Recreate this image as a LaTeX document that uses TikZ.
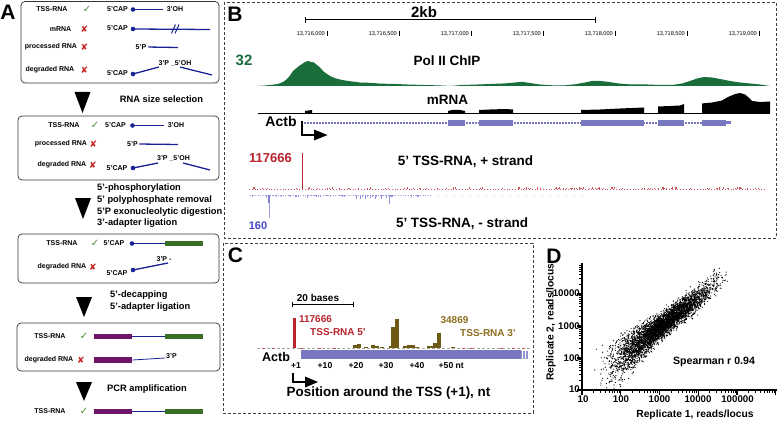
\documentclass[tikz,border=0pt]{standalone}
\usepackage{fontspec}
\setmainfont{Liberation Sans}
\newfontfamily\symf{DejaVu Sans}
\newcommand\fsz[1]{\fontsize{#1}{#1}\selectfont}
\definecolor{navy}{RGB}{25,35,150}
\definecolor{okgreen}{RGB}{70,140,50}
\definecolor{xred}{RGB}{200,30,30}
\definecolor{adgreen}{RGB}{55,110,35}
\definecolor{adpurple}{RGB}{110,20,105}
\definecolor{chip}{RGB}{25,110,60}
\definecolor{trred}{RGB}{185,35,45}
\definecolor{trblue}{RGB}{70,70,200}
\definecolor{genecol}{RGB}{120,120,192}
\definecolor{tbrown}{RGB}{110,90,20}
\definecolor{tbrowntxt}{RGB}{140,110,30}
\begin{document}
\begin{tikzpicture}[x=1pt,y=-1pt,
  lab/.style={inner sep=0pt, font=\fsz{7}\bfseries},
  steptext/.style={inner sep=0pt, anchor=west, font=\fsz{9.3}\bfseries},
  okm/.style={inner sep=0pt, text=okgreen, font=\symf\fsz{10}},
  nom/.style={inner sep=0pt, text=xred, font=\symf\fsz{9}},
  dot/.style={circle, fill=navy, inner sep=0pt, minimum size=4.6pt},
  rna/.style={navy, line width=1.3pt},
  thinrna/.style={navy, line width=0.8pt},
  abox/.style={draw=black!80, line width=0.7pt, rounded corners=4pt},
  dbox/.style={draw=black!75, line width=0.6pt, dash pattern=on 3pt off 2pt},
  panel/.style={inner sep=0pt, font=\fsz{21}\bfseries},
  btext/.style={inner sep=0pt, font=\fsz{13.5}\bfseries},
  ctext/.style={inner sep=0pt, font=\fsz{10}\bfseries},
  coordlab/.style={inner sep=0pt, anchor=east, font=\fsz{5.6}},
  ticklab/.style={inner sep=0pt, font=\fsz{8.6}\bfseries},
  dlab/.style={inner sep=0pt, font=\fsz{9.7}\bfseries},
  downtri/.style={fill=black}
]
\useasboundingbox (0,0) rectangle (778,422);
\fill[white] (0,0) rectangle (778,422);

%================ PANEL A =================
\node[panel] (pA) at (8,12.5) {A};

% box 1
\draw[abox] (21,1.5) rectangle (219,83);
\node[lab] (b1l1) at (52,9) {TSS-RNA};
\node[okm] (b1k1) at (87,9) {✓};
\node[lab] (b1c1) at (117.5,9.5) {5'CAP};
\node[dot] (b1d1) at (133,9.5) {};
\node[lab] (b1e1) at (175,9.5) {3'OH};
\draw[rna, shorten >=4pt] (b1d1.center) -- (b1e1.west);

\node[lab] (b1l2) at (60.5,29) {mRNA};
\node[nom] (b1k2) at (84.5,29.5) {✘};
\node[lab] (b1c2) at (117.5,28.5) {5'CAP};
\node[dot] (b1d2) at (133,29) {};
\coordinate (b1z2) at (210,29.5);
\draw[rna] (b1d2.center) -- (b1z2);
\draw[navy, line width=1pt] (171.5,33.5) -- (175.5,24.5) (175,33.5) -- (179,24.5);

\node[lab] (b1l3) at (51,47) {processed RNA};
\node[nom] (b1k3) at (84.5,47.5) {✘};
\node[lab] (b1c3) at (141,47) {5'P};
\coordinate (b1z3) at (178,47.5);
\draw[rna, shorten <=2pt] (b1c3.east) -- (b1z3);

\node[lab] (b1l4) at (50,70) {degraded RNA};
\node[nom] (b1k4) at (84.5,70) {✘};
\node[lab] (b1c4) at (117.5,73.5) {5'CAP};
\node[dot] (b1d4) at (133,74) {};
\coordinate (b1m4) at (159,67);
\draw[rna] (b1d4.center) -- (b1m4);
\node[lab] (b1p4) at (175,63) {3'P \_5'OH};
\coordinate (b1s4) at (180,67);
\coordinate (b1z4) at (212,75);
\draw[rna] (b1s4) -- (b1z4);

% arrow 1
\fill[downtri] (74.5,92) -- (90.5,92) -- (82.5,113) -- cycle;
\node[steptext, anchor=center] (s1) at (161.5,99) {RNA size selection};

% box 2
\draw[abox] (18,116) rectangle (219,180);
\node[lab] (b2l1) at (64,125) {TSS-RNA};
\node[okm] (b2k1) at (95,125) {✓};
\node[lab] (b2c1) at (115.5,125.5) {5'CAP};
\node[dot] (b2d1) at (132.5,125.5) {};
\node[lab] (b2e1) at (176,125.5) {3'OH};
\draw[rna, shorten >=4pt] (b2d1.center) -- (b2e1.west);

\node[lab] (b2l2) at (61,144) {processed RNA};
\node[nom] (b2k2) at (93.5,144) {✘};
\node[lab] (b2c2) at (132.5,144) {5'P};
\coordinate (b2z2) at (178,144.5);
\draw[rna, shorten <=1.5pt] (b2c2.east) -- (b2z2);

\node[lab] (b2l3) at (62,165) {degraded RNA};
\node[nom] (b2k3) at (93,165) {✘};
\node[lab] (b2c3) at (117,168.5) {5'CAP};
\node[dot] (b2d3) at (133,168) {};
\coordinate (b2m3) at (158,163);
\draw[rna] (b2d3.center) -- (b2m3);
\node[lab] (b2p3) at (173.5,158) {3'P \_5'OH};
\coordinate (b2s3) at (183,163);
\coordinate (b2z3) at (210,170);
\draw[rna] (b2s3) -- (b2z3);

% arrow 2
\fill[downtri] (75,198) -- (91,198) -- (83,219) -- cycle;
\node[steptext] (s2a) at (97,188) {5'-phosphorylation};
\node[steptext] (s2b) at (97,200) {5' polyphosphate removal};
\node[steptext] (s2c) at (97,212) {5'P exonucleolytic digestion};
\node[steptext] (s2d) at (97,223.5) {3'-adapter ligation};

% box 3
\draw[abox] (18,234) rectangle (219,283);
\node[lab] (b3l1) at (62,243) {TSS-RNA};
\node[okm] (b3k1) at (95,243) {✓};
\node[lab] (b3c1) at (114,243.5) {5'CAP};
\node[dot] (b3d1) at (132,243.5) {};
\node[fill=adgreen, inner sep=0pt, minimum width=38pt, minimum height=5.5pt, anchor=west] (b3g1) at (165,243.5) {};
\draw[rna] (b3d1.center) -- (b3g1.west);

\node[lab] (b3l2) at (62,267) {degraded RNA};
\node[nom] (b3k2) at (93,267) {✘};
\node[lab] (b3c2) at (117,273) {5'CAP};
\node[dot] (b3d2) at (133,270) {};
\coordinate (b3z2) at (168,263);
\draw[rna] (b3d2.center) -- (b3z2);
\node[lab] (b3p2) at (164,259.5) {3'P -};

% arrow 3
\fill[downtri] (76,297) -- (92,297) -- (84,317) -- cycle;
\node[steptext] (s3a) at (110,295) {5'-decapping};
\node[steptext] (s3b) at (110,307) {5'-adapter ligation};

% box 4
\draw[abox] (17,323) rectangle (220,371);
\node[lab] (b4l1) at (50,336) {TSS-RNA};
\node[okm] (b4k1) at (84,336) {✓};
\node[fill=adpurple, inner sep=0pt, minimum width=38pt, minimum height=5.5pt, anchor=west] (b4p1) at (94,336.5) {};
\node[fill=adgreen, inner sep=0pt, minimum width=38pt, minimum height=5.5pt, anchor=west] (b4g1) at (165,336.5) {};
\draw[thinrna] (b4p1.east) -- (b4g1.west);

\node[lab] (b4l2) at (49,360) {degraded RNA};
\node[nom] (b4k2) at (81,360) {✘};
\node[fill=adpurple, inner sep=0pt, minimum width=38pt, minimum height=5.5pt, anchor=west] (b4p2) at (94,360) {};
\coordinate (b4z2) at (165,358);
\draw[thinrna] (b4p2.east) -- (b4z2);
\node[lab] (b4e2) at (171.5,356) {3'P};

% arrow 4
\fill[downtri] (76,382) -- (92,382) -- (84,401) -- cycle;
\node[steptext, anchor=center] (s4) at (147,389) {PCR amplification};

% final
\node[lab] (b5l1) at (50,411) {TSS-RNA};
\node[okm] (b5k1) at (84,411) {✓};
\node[fill=adpurple, inner sep=0pt, minimum width=38pt, minimum height=5.5pt, anchor=west] (b5p1) at (94,411.5) {};
\node[fill=adgreen, inner sep=0pt, minimum width=38pt, minimum height=5.5pt, anchor=west] (b5g1) at (165,411.5) {};
\draw[thinrna] (b5p1.east) -- (b5g1.west);

%================ PANEL B =================
\draw[dbox] (224,2) rectangle (776,238);
\node[panel] (pB) at (235,14.5) {B};
% scale bar
\coordinate (sbl) at (305,20);
\coordinate (sbr) at (595,20);
\draw[line width=1pt] (sbl) -- (sbr);
\draw[line width=1pt] (305,17) -- (305,23) (595,17) -- (595,23);
\node[inner sep=0pt, font=\fsz{15}\bfseries] (kb) at (424,12) {2kb};
% coordinates
\node[coordlab] (c1) at (325,34) {13,716,000};
\node[coordlab] (c2) at (397,34) {13,716,500};
\node[coordlab] (c3) at (469,34) {13,717,000};
\node[coordlab] (c4) at (541,34) {13,717,500};
\node[coordlab] (c5) at (613,34) {13,718,000};
\node[coordlab] (c6) at (685,34) {13,718,500};
\node[coordlab] (c7) at (757,34) {13,719,000};
\foreach \t in {327,399,471,543,615,687,759} \draw[line width=0.4pt] (\t,31) -- (\t,36.5);
% Pol II
\node[inner sep=0pt, font=\fsz{15}\bfseries, text=chip] (n32) at (244,60) {32};
\node[btext] (pol) at (447,61) {Pol II ChIP};
\fill[chip] (257,86) -- (265,85.5) -- (272,84.8) -- (278,84) -- (283,82) -- (287,79) -- (290,75.5) -- (293,71) -- (296,68.5) -- (299,66) -- (302,64) -- (305,62) -- (308,61) -- (311,62) -- (314,62.5) -- (317,65) -- (320,67.5) -- (323,71) -- (327,74) -- (331,76.5) -- (336,78.5) -- (342,80) -- (350,81.2) -- (360,82.5) -- (370,82.8) -- (380,83.6) -- (395,84) -- (410,84.6) -- (425,85) -- (440,85.4) -- (450,86) -- (462,85) -- (475,84.6) -- (490,84) -- (505,83.4) -- (515,82.5) -- (522,81.8) -- (530,83) -- (540,84.5) -- (555,85.5) -- (565,85.3) -- (575,84.3) -- (585,82.5) -- (592,81) -- (600,81) -- (608,81.8) -- (618,83.4) -- (630,84.4) -- (645,84.4) -- (660,85) -- (672,85) -- (682,83.5) -- (690,81) -- (697,78.5) -- (704,77) -- (712,77.5) -- (720,79) -- (730,81) -- (740,82.5) -- (750,83.5) -- (760,84.5) -- (770,86) -- cycle;
% mRNA
\node[btext] (mrna) at (447.5,100) {mRNA};
\draw[line width=0.5pt] (258,113) -- (770,113);
\fill[black] (305,113) -- (305,111) -- (312,110) -- (312,113) -- cycle;
\fill[black] (448,113) -- (448,111) -- (452,110) -- (460,110) -- (465,111) -- (465,113) -- cycle;
\fill[black] (479,113) -- (479,110) -- (490,109.5) -- (505,109) -- (513,109.5) -- (513,113) -- cycle;
\fill[black] (581,113) -- (581,110) -- (600,109.5) -- (620,108.5) -- (644,107.5) -- (644,113) -- cycle;
\fill[black] (658,113) -- (658,106.5) -- (670,106) -- (680,105.5) -- (684,104) -- (684,113) -- cycle;
\fill[black] (702,113) -- (702,103.5) -- (712,102.5) -- (722,100.5) -- (728,97) -- (735,94) -- (740,93) -- (745,94.5) -- (748,97) -- (752,101) -- (760,102) -- (770,101.5) -- (770,113) -- cycle;
% gene model
\node[inner sep=0pt, font=\fsz{14}\bfseries] (actbB) at (281,121) {Actb};
\coordinate (gs) at (302,123);
\coordinate (ge) at (731,123);
\draw[genecol, line width=1.1pt, dash pattern=on 1pt off 0.5pt] (gs) -- (ge);
\foreach \a/\b in {448/465,479/513,581/644,658/684,702/726}
  \fill[genecol] (\a,120.3) rectangle (\b,125.7);
\fill[genecol] (726,121.5) rectangle (731,124.5);
\coordinate (tssB) at (302,121);
\draw[line width=1.1pt] (tssB) -- (302,135) -- (315,135);
\fill (314,129.5) -- (327.5,135) -- (314,140.5) -- cycle;
% TSS-RNA tracks
\node[btext, text=trred, font=\fsz{13}\bfseries] (r117) at (270.5,158) {117666};
\node[btext] (plus) at (465.5,162) {5' TSS-RNA, + strand};
\draw[trred, line width=0.8pt] (302,153) -- (302,189);
\draw[trred!75, line width=0.6pt, dash pattern=on 1pt off 1.8pt] (249,189) -- (765,189);
\pgfmathsetseed{11}
\foreach \i in {1,...,110} {
  \pgfmathsetmacro\xx{507+256*rand}
  \pgfmathsetmacro\hh{0.6+1.4*rnd}
  \draw[trred!80, line width=0.5pt] (\xx,189) -- (\xx,189-\hh);
}
\draw[trblue!50, line width=0.6pt, dash pattern=on 1pt off 1.5pt] (250,195) -- (430,195);
\draw[trblue!40, line width=0.6pt, dash pattern=on 1pt off 7pt] (430,195) -- (585,195);
\foreach \i in {1,...,45} {
  \pgfmathsetmacro\xx{335+85*rand}
  \pgfmathsetmacro\hh{0.8+2*rnd}
  \draw[trblue!55, line width=0.5pt] (\xx,195) -- (\xx,195+\hh);
}
\foreach \xx/\hh in {356/4,360/3.5,365/4,370/3,375/3.5,381/4,386/3}
  \draw[trblue!60, line width=0.6pt] (\xx,195) -- (\xx,195+\hh);
\draw[trblue!70, line width=1.8pt] (269,195) -- (269,203);
\draw[trblue!55, line width=0.6pt] (269,203) -- (269,218);
\draw[trblue!60, line width=1pt] (389,195) -- (389,203.5);
\node[btext, text=trblue, font=\fsz{11}\bfseries] (r160) at (258,226) {160};
\node[btext] (minus) at (462,224) {5' TSS-RNA, - strand};

%================ PANEL C =================
\draw[dbox] (223,243) rectangle (533,413);
\node[panel] (pC) at (235.5,255.5) {C};
\node[ctext] (bases) at (318,298) {20 bases};
\coordinate (cbl) at (292,304);
\coordinate (cbr) at (353,304);
\draw[line width=0.9pt] (cbl) -- (cbr);
\draw[line width=0.9pt] (292,301.5) -- (292,306.5) (353,301.5) -- (353,306.5);
% baseline
\draw[gray!70, line width=0.8pt, dash pattern=on 3pt off 2pt] (257,348) -- (530,348);
\foreach \xx in {262,272,300,318,333,462,470,500,512,522}
  \draw[trred!80, line width=0.8pt] (\xx,348) -- (\xx+3,348);
% bars
\fill[trred] (293,318) rectangle (295.8,348);
\foreach \a/\b/\h in {353/357/345,357/361/343.5,364/368/346.5,371/375/345,375/379/346,380/384/346.5,389/391/346,391/395/327,395/399/319,403/407/346,407/415/344.5,415/419/346.5,427/433/346,433/437/343,437/441/333,451/455/346.5}
  \fill[tbrown] (\a,\h) rectangle (\b,348);
\node[ctext, text=trred] (c117) at (315.5,319) {117666};
\node[ctext, text=trred] (c5p) at (338,332) {TSS-RNA 5'};
\node[ctext, text=tbrowntxt] (c348) at (454.5,320) {34869};
\node[ctext, text=tbrowntxt] (c3p) at (488,333) {TSS-RNA 3'};
% gene bar
\fill[genecol] (301,350) rectangle (521,359);
\foreach \xx in {521.5,523,524.5,526,527.5}
  \draw[genecol!80, line width=0.6pt] (\xx,350.5) -- (\xx,358.5);
\node[inner sep=0pt, font=\fsz{12.6}\bfseries] (actbC) at (276,356.5) {Actb};
\node[ticklab] (t1) at (296,366) {+1};
\node[ticklab] (t10) at (325,366) {+10};
\node[ticklab] (t20) at (356,366) {+20};
\node[ticklab] (t30) at (386,366) {+30};
\node[ticklab] (t40) at (417,366) {+40};
\node[ticklab, anchor=west] (t50) at (438.5,366) {+50 nt};
\coordinate (tssC) at (293,373);
\draw[line width=1.1pt] (tssC) -- (293,382) -- (306,382);
\fill (305,376.5) -- (318,382) -- (305,387.5) -- cycle;
\node[inner sep=0pt, font=\fsz{13.4}\bfseries] (pos) at (388.5,393) {Position around the TSS (+1), nt};

%================ PANEL D =================
\node[panel] (pD) at (554,256.5) {D};
% scatter
\begin{scope}
\clip (583.5,262) rectangle (778,388.7);
\pgfmathsetseed{7}
\foreach \i in {1,...,4500} {
  \pgfmathsetmacro\lx{3.05+0.62*(rand+rand+rand)}
  \pgfmathsetmacro\sd{0.19+0.16*max(0,3-\lx)}
  \pgfmathsetmacro\ly{0.93*\lx+0.15+\sd*(rand+rand+rand)}
  \fill (582+38.75*\lx-38.75, 422-32*\ly) circle (0.6pt);
}
\end{scope}
% axes
\coordinate (dor) at (582,390);
\coordinate (dyt) at (582,263);
\coordinate (dxr) at (777,390);
\draw[line width=2.6pt] (dyt) -- (dor) -- (dxr);
\foreach \k in {0,...,3} \draw[line width=1.2pt] (582,390-32*\k) -- (577,390-32*\k);
\foreach \k in {0,...,3} \foreach \m in {2,...,9} {
  \pgfmathsetmacro\yy{390-32*(\k+log10(\m))}
  \ifdim\yy pt>264pt \draw[line width=0.9pt] (582,\yy) -- (579,\yy); \fi
}
\foreach \k in {0,...,5} \draw[line width=1.2pt] (582+38.75*\k,390) -- (582+38.75*\k,395);
\foreach \k in {0,...,4} \foreach \m in {2,...,9} {
  \pgfmathsetmacro\xx{582+38.75*(\k+log10(\m))}
  \ifdim\xx pt<777pt \draw[line width=0.9pt] (\xx,390) -- (\xx,393); \fi
}
\node[dlab, anchor=east] (y10) at (580,389) {10};
\node[dlab, anchor=east] (y100) at (580,358) {100};
\node[dlab, anchor=east] (y1000) at (580,326) {1000};
\node[dlab, anchor=east] (y10000) at (580,293.5) {10000};
\node[dlab] (x10) at (583,399) {10};
\node[dlab] (x100) at (621,399) {100};
\node[dlab] (x1000) at (659.5,399) {1000};
\node[dlab] (x10000) at (698,399) {10000};
\node[dlab] (x100000) at (737.5,399) {100000};
\node[inner sep=0pt, font=\fsz{10.3}\bfseries, rotate=90] (ylab) at (551,322) {Replicate 2, reads/locus};
\node[inner sep=0pt, font=\fsz{10.3}\bfseries] (xlab) at (695,415) {Replicate 1, reads/locus};
\node[inner sep=0pt, font=\fsz{10.6}\bfseries] (sp) at (714,362) {Spearman r 0.94};
\end{tikzpicture}
\end{document}
